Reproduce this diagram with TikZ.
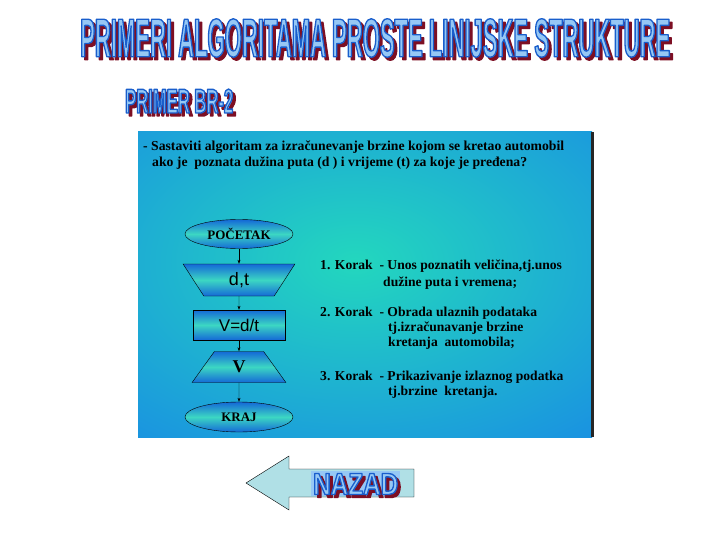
\documentclass[tikz,border=0pt]{standalone}
\usepackage{fontspec}
\usepackage{graphicx}
\setmainfont{Liberation Serif}
\newfontfamily\headfont{Liberation Sans}
\newfontfamily\titlefont[FakeStretch=0.42]{Liberation Sans}
\newfontfamily\subtitlefont[FakeStretch=0.50]{Liberation Sans}
\newfontfamily\buttonfont[FakeStretch=0.84]{Liberation Sans}
\usetikzlibrary{shapes.geometric,arrows.meta,positioning}

\definecolor{headfill}{RGB}{150,200,245}
\definecolor{headline}{RGB}{25,95,205}
\definecolor{headshadow}{RGB}{125,15,35}
\definecolor{panelblue}{RGB}{25,140,228}
\definecolor{panelgreen}{RGB}{35,215,190}
\definecolor{shapeblue}{RGB}{20,105,215}
\definecolor{shapemid}{RGB}{60,215,195}
\definecolor{backfill}{RGB}{176,224,230}

% outlined banner text: x, y (west, centre), width, height, font, text
\newcommand{\strokeon}[1]{\special{pdf:literal direct #1 RG 2 Tr 1.3 w 1 j}}
\newcommand{\strokeoff}{\special{pdf:literal direct 0 Tr}}
\newcommand{\bannertext}[6]{%
  \node[anchor=west,inner sep=0] at (#1,#2)
    {\rlap{\smash{\kern3pt\raisebox{-3pt}{\color{headshadow}%
       \resizebox{#3}{#4}{\strokeon{0.49 0.06 0.14}#5\bfseries #6\strokeoff}}}}% shadow
     \color{headfill}\resizebox{#3}{#4}{\strokeon{0.10 0.37 0.80}#5\bfseries #6\strokeoff}};
}

\tikzset{
  flowbox/.style={draw=black,thin,top color=shapeblue,bottom color=shapeblue,middle color=shapemid,inner sep=0},
  startstop/.style={flowbox,ellipse,minimum width=108,minimum height=29,font=\bfseries\fontsize{13}{15}\selectfont},
  iobox/.style={flowbox,trapezium,trapezium stretches=true},
  procbox/.style={flowbox,rectangle,minimum width=92,minimum height=30},
  flowarrow/.style={draw=black,thin,-{Stealth[length=4pt,width=3pt]}},
  tasktext/.style={anchor=west,inner sep=0,font=\bfseries\fontsize{13.7}{15}\selectfont},
  steptext/.style={anchor=west,inner sep=0,font=\bfseries\fontsize{13.6}{15}\selectfont}
}

\begin{document}
\begin{tikzpicture}[x=1pt,y=-1pt]
\useasboundingbox[fill=white] (0,0) rectangle (720,540);

% headings
\bannertext{80}{38}{590pt}{38pt}{\titlefont\fontsize{53}{60}\selectfont}{PRIMERI ALGORITAMA PROSTE LINIJSKE STRUKTURE}
\bannertext{125}{101}{108pt}{24pt}{\subtitlefont\fontsize{33.5}{40}\selectfont}{PRIMER BR-2}

% panel
\begin{scope}
\clip (138,132) rectangle (592,437);
\fill[panelblue] (138,132) rectangle (592,437);
\shade[inner color=panelgreen,outer color=panelblue] (355,262) ellipse (400 and 250);
\end{scope}
\fill[black!85] (591,132) rectangle (594,437);% right edge

\node[tasktext] (task1) at (143,147) {- Sastaviti algoritam za izračunevanje brzine kojom se kretao automobil};
\node[tasktext] (task2) at (152,163) {ako je \ poznata dužina puta (d ) i vrijeme (t) za koje je pređena?};

% flowchart
\node[startstop] (start) at (239,234) {POČETAK};
\node[iobox,shape border rotate=180,trapezium left angle=69,trapezium right angle=69,
  minimum width=112,minimum height=32,font=\headfont\fontsize{18}{20}\selectfont] (input) at (239,280) {d,t};
\node[procbox,font=\headfont\fontsize{17}{19}\selectfont] (calc) at (239,325) {V=d/t};
\node[iobox,trapezium left angle=64,trapezium right angle=64,
  minimum width=94,minimum height=31,font=\bfseries\fontsize{18}{20}\selectfont] (output) at (239,367) {V};
\node[startstop,minimum height=30] (stop) at (239,417) {KRAJ};

\draw[flowarrow] (start) -- (input);
\draw[flowarrow] (input) -- (calc);
\draw[flowarrow] (calc) -- (output);
\draw[flowarrow] (output) -- (stop);

% steps
\node[steptext] (step1) at (320,266) {1. Korak \ - Unos poznatih veličina,tj.unos};
\node[steptext] (step1b) at (383,283) {dužine puta i vremena;};
\node[steptext] (step2) at (320,313) {2. Korak \ - Obrada ulaznih podataka};
\node[steptext] (step2b) at (388,328) {tj.izračunavanje brzine};
\node[steptext] (step2c) at (388,343) {kretanja \ automobila;};
\node[steptext] (step3) at (320,377) {3. Korak \ - Prikazivanje izlaznog podatka};
\node[steptext] (step3b) at (388,392) {tj.brzine \ kretanja.};

% back button
\draw[black,fill=backfill] (246,483) -- (289,456) -- (289,469) -- (414,469)
  -- (414,497) -- (289,497) -- (289,510) -- cycle;
\fill[headfill] (311,471) rectangle (400,496);
\bannertext{313}{484}{85pt}{21pt}{\buttonfont\fontsize{29}{34}\selectfont}{NAZAD}
\end{tikzpicture}
\end{document}
